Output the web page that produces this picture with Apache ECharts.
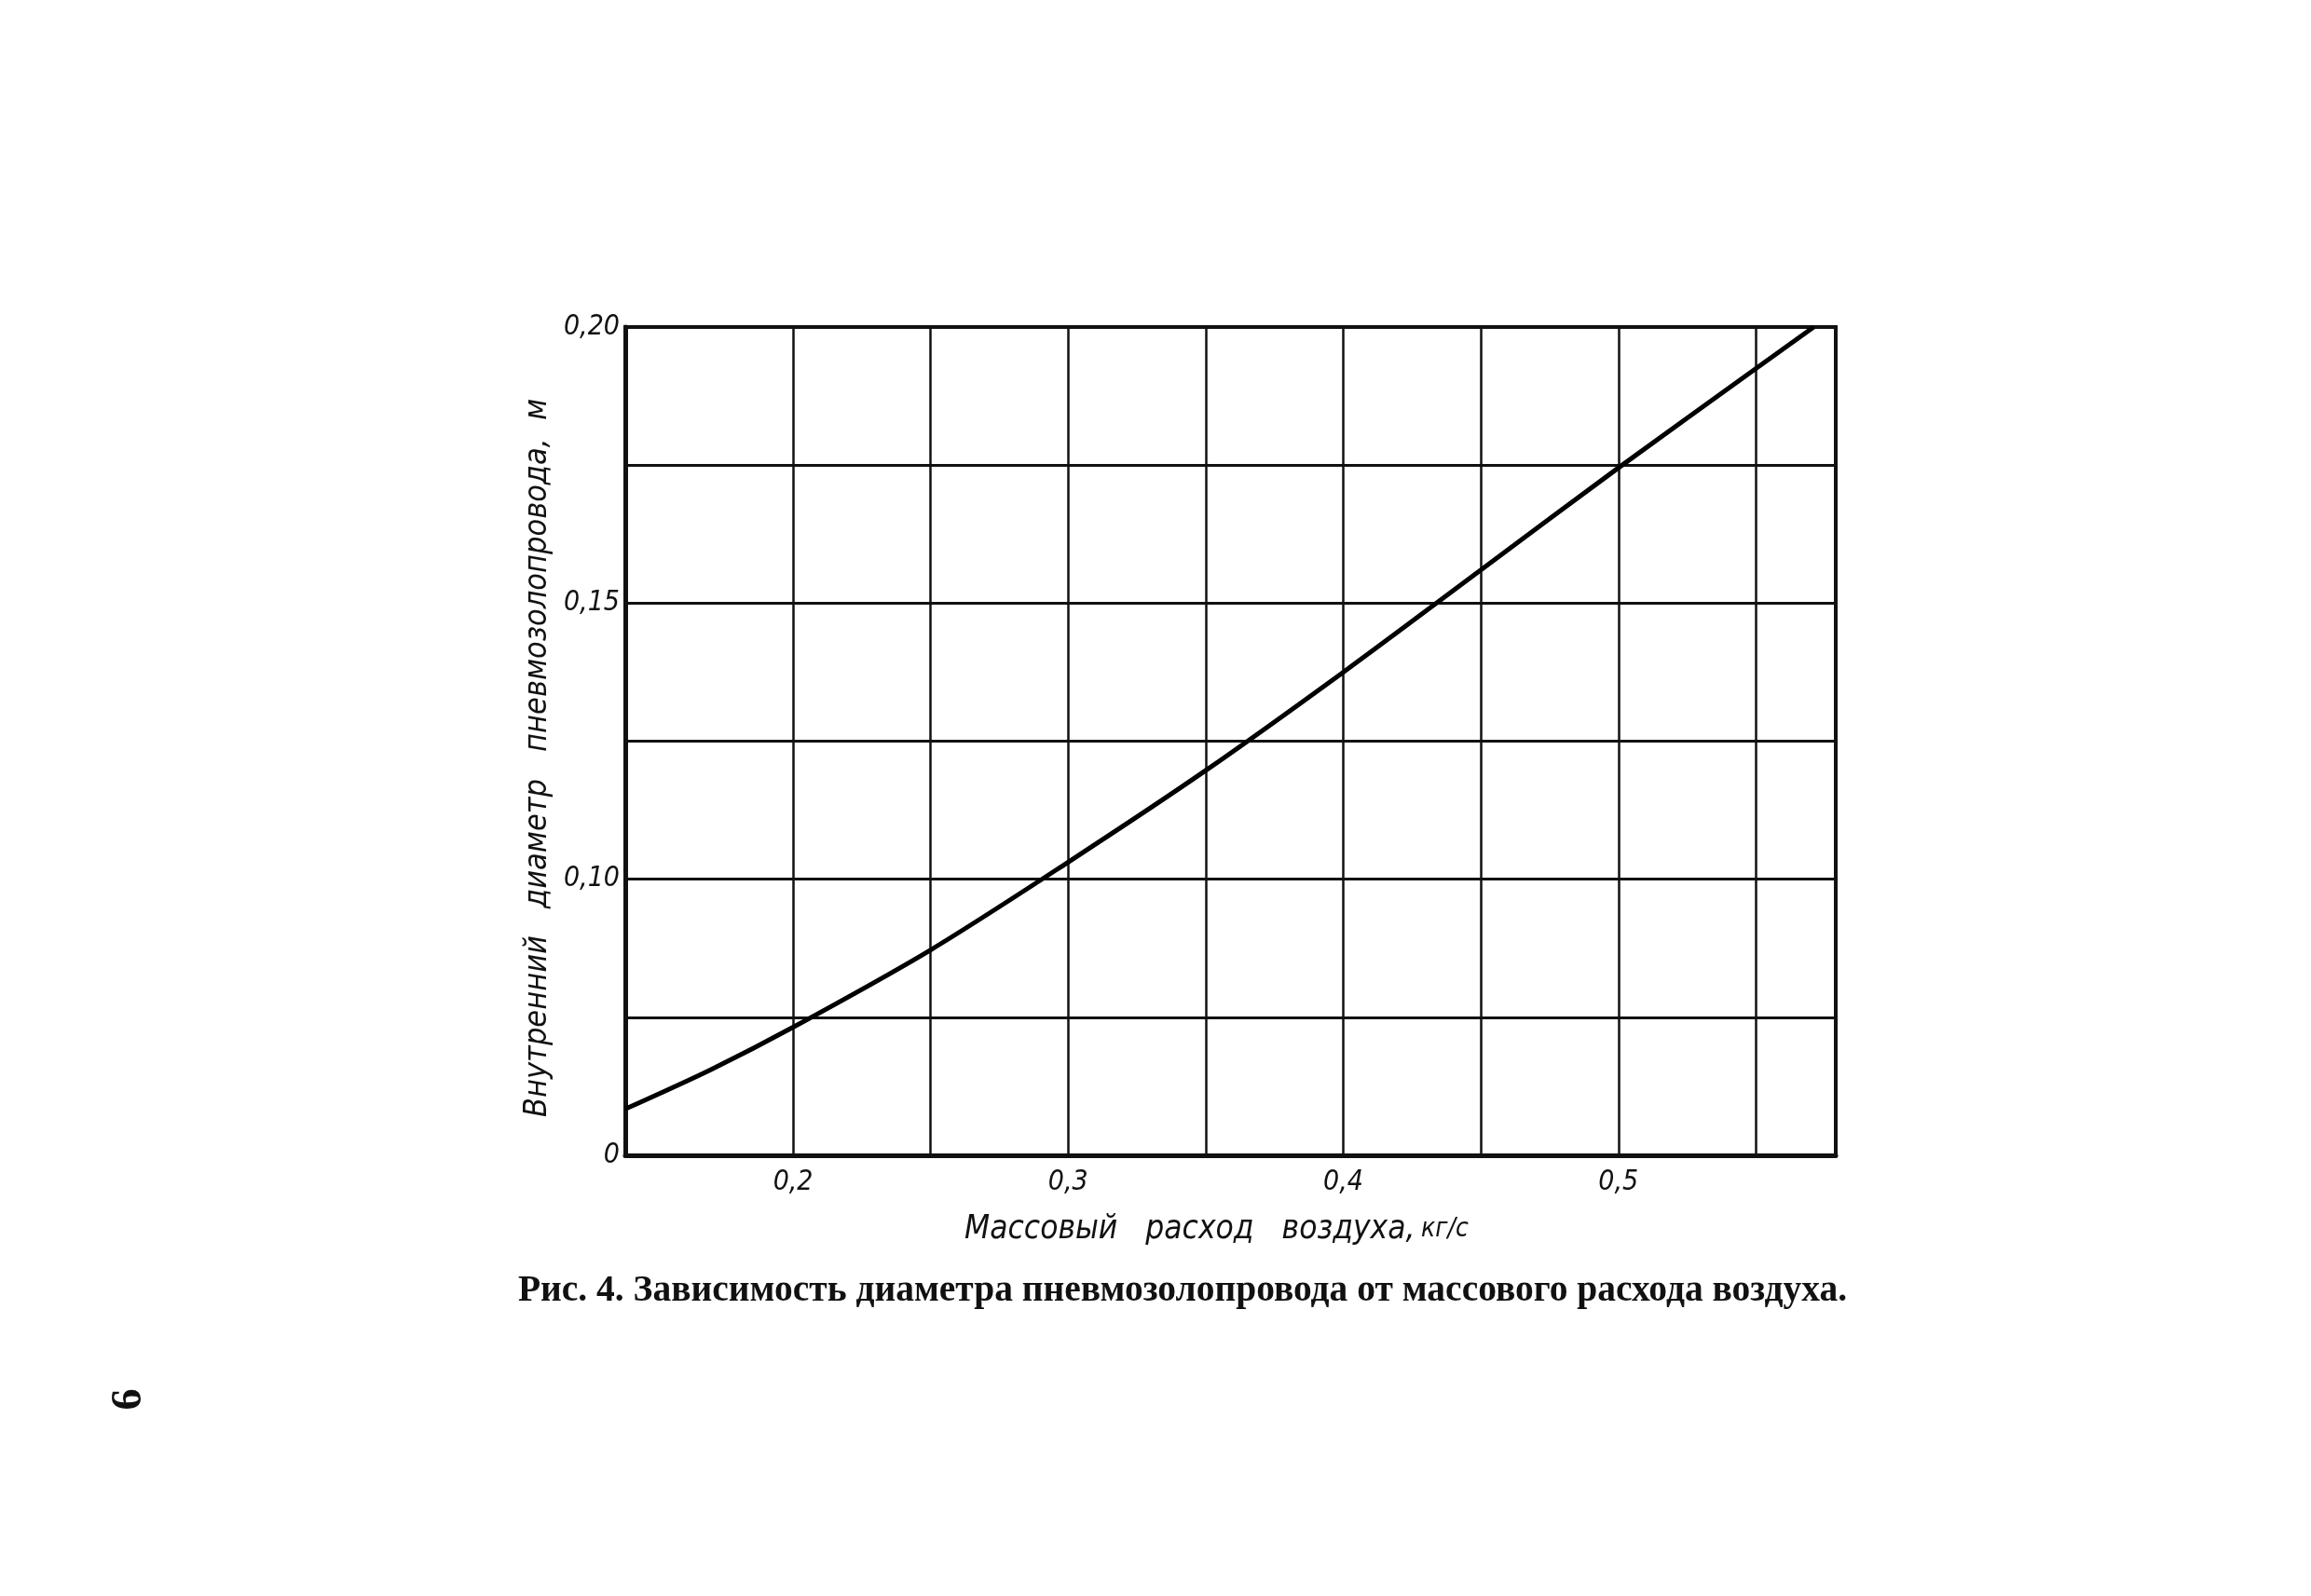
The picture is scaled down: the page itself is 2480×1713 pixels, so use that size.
<!DOCTYPE html>
<html>
<head>
<meta charset="utf-8">
<script src="https://cdn.jsdelivr.net/npm/echarts@6/dist/echarts.min.js"></script>
<style>
html,body{margin:0;padding:0;background:#fff;}
#chart{width:2480px;height:1713px;}
</style>
</head>
<body>
<div id="chart"></div>
<script>
// Data
const massFlow = [0.139, 0.17, 0.2, 0.25, 0.3, 0.35, 0.4, 0.45, 0.5, 0.55, 0.571];
const diameter = [0.0584, 0.0655, 0.0732, 0.0872, 0.1031, 0.1197, 0.1375, 0.156, 0.1745, 0.1925, 0.2];
const xGridValues = [0.2, 0.25, 0.3, 0.35, 0.4, 0.45, 0.5, 0.55];
const xLabelValues = [0.2, 0.3, 0.4, 0.5];
const yLabelMap = { 50: '0', 100: '0,10', 150: '0,15', 200: '0,20' };
const xAxisTitle = 'Массовый   расход   воздуха,';
const xAxisUnit = 'кг/с';
const yAxisTitle = 'Внутренний   диаметр   пневмозолопровода,  м';
const caption = 'Рис. 4. Зависимость диаметра пневмозолопровода от массового расхода воздуха.';
const pageNumber = '6';

const italicFont = '"Liberation Sans Narrow", "DejaVu Sans Condensed", "Roboto Condensed", "Liberation Sans", sans-serif';

const chart = echarts.init(document.getElementById('chart'), null, { renderer: 'canvas' });
const option = {
  backgroundColor: '#fff',
  animation: false,
  title: {
    text: caption,
    left: 1264,
    top: 1361,
    textAlign: 'center',
    textStyle: { fontFamily: '"Liberation Serif", "DejaVu Serif", serif', fontWeight: 'bold', fontSize: 39.5, color: '#111' }
  },
  grid: {
    left: 671, right: 510, top: 351, bottom: 473,
    show: true, borderColor: '#111', borderWidth: 4, backgroundColor: 'transparent'
  },
  xAxis: {
    type: 'value',
    min: 0.139,
    max: 0.579,
    axisLine: { show: true, lineStyle: { color: '#111', width: 5 } },
    axisTick: { show: false, customValues: xGridValues },
    splitLine: { show: true, lineStyle: { color: '#111', width: 2.5 } },
    axisLabel: {
      customValues: xLabelValues,
      margin: 14,
      fontFamily: italicFont, fontStyle: 'italic', fontSize: 30, color: '#111',
      formatter: v => v.toFixed(1).replace('.', ',')
    },
    name: '{a|' + xAxisTitle + '}  {b|' + xAxisUnit + '}',
    nameLocation: 'middle',
    nameGap: 62,
    nameTextStyle: {
      padding: [0, 30, 0, 0],
      rich: {
        a: { fontFamily: italicFont, fontStyle: 'italic', fontSize: 35, color: '#111' },
        b: { fontFamily: italicFont, fontStyle: 'italic', fontSize: 28, color: '#111' }
      }
    }
  },
  yAxis: {
    type: 'value',
    min: 0.05,
    max: 0.2,
    interval: 0.025,
    axisLine: { show: true, lineStyle: { color: '#111', width: 5 } },
    axisTick: { show: false },
    splitLine: { show: true, lineStyle: { color: '#111', width: 3 } },
    axisLabel: {
      margin: 6,
      fontFamily: italicFont, fontStyle: 'italic', fontSize: 30, color: '#111',
      formatter: v => { const k = Math.round(v * 1000); return yLabelMap[k] !== undefined ? yLabelMap[k] : ''; }
    },
    name: yAxisTitle,
    nameLocation: 'middle',
    nameGap: 70,
    nameTextStyle: { fontFamily: italicFont, fontStyle: 'italic', fontSize: 34, color: '#111', padding: [0, 36, 0, 0] }
  },
  graphic: [{
    type: 'text',
    x: 139, y: 1502,
    rotation: Math.PI / 2,
    style: { text: pageNumber, fontFamily: '"Liberation Serif", serif', fontWeight: 'bold', fontSize: 46, fill: '#111', textAlign: 'center', textVerticalAlign: 'middle' }
  }],
  series: [{
    type: 'line',
    data: massFlow.map((x, i) => [x, diameter[i]]),
    smooth: 0.3,
    showSymbol: false,
    lineStyle: { color: '#000', width: 5 },
    clip: true
  }]
};
chart.setOption(option);
</script>
</body>
</html>
